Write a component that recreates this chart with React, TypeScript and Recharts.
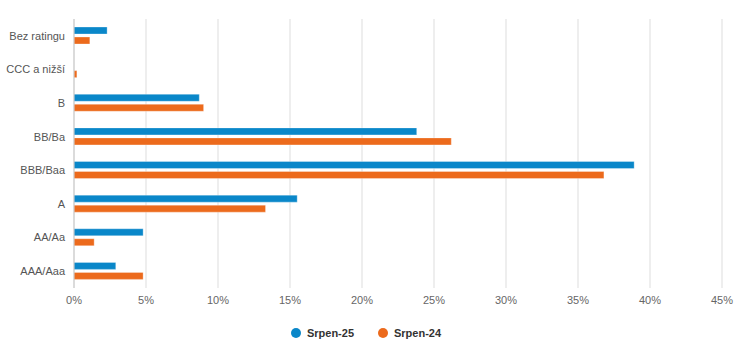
import React from "react";
import {
  BarChart,
  Bar,
  XAxis,
  YAxis,
  CartesianGrid,
  Legend,
} from "recharts";

const categories = [
  "Bez ratingu",
  "CCC a nižší",
  "B",
  "BB/Ba",
  "BBB/Baa",
  "A",
  "AA/Aa",
  "AAA/Aaa",
];
const srpen25 = [2.3, 0, 8.7, 23.8, 38.9, 15.5, 4.8, 2.9];
const srpen24 = [1.1, 0.2, 9.0, 26.2, 36.8, 13.3, 1.4, 4.8];
const xTicks = [0, 5, 10, 15, 20, 25, 30, 35, 40, 45];

const BLUE = "#0a87c9";
const ORANGE = "#ec6a1c";
const FONT = "'Liberation Sans', Arial, sans-serif";

const data = categories.map((name, i) => ({
  name,
  s25: srpen25[i],
  s24: srpen24[i],
}));

const series = [
  { key: "s25", label: "Srpen-25", color: BLUE },
  { key: "s24", label: "Srpen-24", color: ORANGE },
];

// single-line category label (default tick wraps long names)
function CategoryTick(props: any) {
  const { x, y, payload } = props;
  return (
    <text
      x={x}
      y={y}
      dy="0.355em"
      textAnchor="end"
      fill="#555"
      fontSize={11}
      fontFamily={FONT}
    >
      {payload.value}
    </text>
  );
}

function LegendContent() {
  return (
    <div
      style={{
        display: "flex",
        justifyContent: "center",
        gap: 24,
        paddingTop: 9,
        fontFamily: FONT,
        fontSize: 11,
        fontWeight: 700,
        color: "#333",
        paddingLeft: 10,
      }}
    >
      {series.map((s) => (
        <div key={s.key} style={{ display: "flex", alignItems: "center", gap: 6 }}>
          <span
            style={{
              width: 10,
              height: 10,
              borderRadius: "50%",
              background: s.color,
              display: "inline-block",
            }}
          />
          <span>{s.label}</span>
        </div>
      ))}
    </div>
  );
}

export default function App() {
  return (
    <div style={{ position: "absolute", left: 0, top: 0, background: "#fff" }}>
      <BarChart
        width={756}
        height={360}
        data={data}
        layout="vertical"
        margin={{ top: 19, right: 34, left: 0, bottom: 0 }}
        barSize={7}
        barGap={3}
      >
        <CartesianGrid
          horizontal={false}
          stroke="#e8e8e8"
          strokeWidth={1.5}
        />
        <XAxis
          type="number"
          domain={[0, 45]}
          ticks={xTicks}
          tickFormatter={(v) => `${v}%`}
          axisLine={false}
          tickLine={false}
          height={30}
          tick={{ fill: "#666", fontSize: 11, fontFamily: FONT }}
        />
        <YAxis
          type="category"
          dataKey="name"
          width={74}
          axisLine={{ stroke: "#c8c8c8" }}
          tickLine={false}
          tickSize={0}
          tickMargin={9}
          tick={<CategoryTick />}
        />
        <Legend verticalAlign="bottom" height={42} content={<LegendContent />} />
        {series.map((s) => (
          <Bar
            key={s.key}
            dataKey={s.key}
            name={s.label}
            fill={s.color}
            stroke="#ffffff"
            strokeOpacity={0.6}
            strokeWidth={0.5}
            isAnimationActive={false}
          />
        ))}
      </BarChart>
    </div>
  );
}
